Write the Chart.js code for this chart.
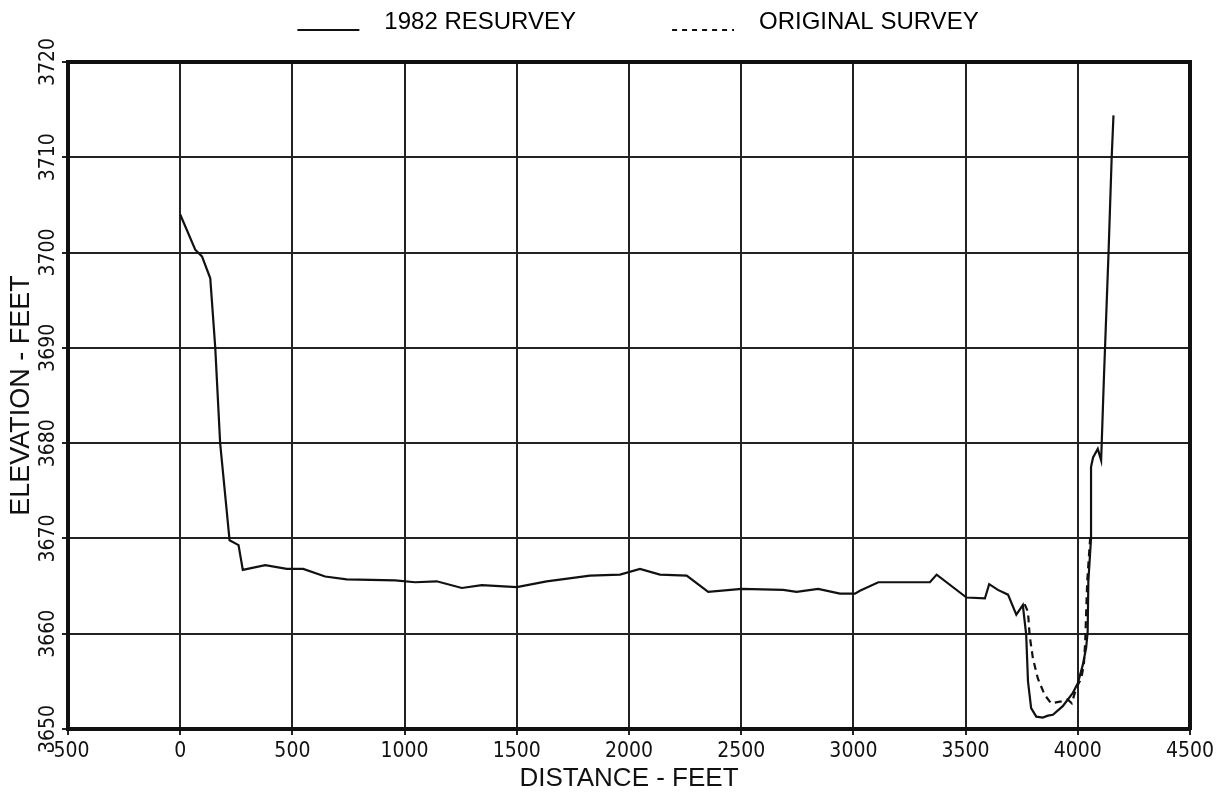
<!DOCTYPE html>
<html>
<head>
<meta charset="utf-8">
<script src="https://cdn.jsdelivr.net/npm/chart.js@4.4.1/dist/chart.umd.min.js"></script>
<style>
  html, body { margin: 0; padding: 0; background: #fff; }
  #wrap { width: 1225px; height: 797px; }
</style>
</head>
<body>
<div id="wrap"><canvas id="profile" width="1225" height="797"></canvas></div>
<script>
// cross section: distance (ft) and elevation (ft)
const resurveyDist = [0, 67, 97, 134, 156, 178, 220, 260, 279, 379,
  475, 548, 646, 742, 958, 1047, 1143, 1255, 1344, 1500,
  1633, 1826, 1960, 2049, 2138, 2257, 2353, 2502, 2687, 2747,
  2843, 2940, 3007, 3029, 3111, 3341, 3371, 3504, 3586, 3605,
  3644, 3689, 3726, 3755, 3770, 3778, 3792, 3815, 3844, 3867,
  3889, 3933, 3978, 4000, 4022, 4037, 4044, 4047, 4059, 4059,
  4068, 4089, 4104, 4116, 4137, 4151, 4159];
const resurveyElev = [3704.0, 3700.3, 3699.6, 3697.3, 3690.1, 3680.0, 3669.8, 3669.3, 3666.7, 3667.2,
  3666.8, 3666.8, 3666.0, 3665.7, 3665.6, 3665.4, 3665.5, 3664.8, 3665.1, 3664.9,
  3665.5, 3666.1, 3666.2, 3666.8, 3666.2, 3666.1, 3664.4, 3664.7, 3664.6, 3664.4,
  3664.7, 3664.2, 3664.2, 3664.5, 3665.4, 3665.4, 3666.2, 3663.8, 3663.7, 3665.2,
  3664.6, 3664.1, 3662.0, 3663.0, 3659.9, 3655.0, 3652.2, 3651.3, 3651.2, 3651.4,
  3651.5, 3652.4, 3653.8, 3654.8, 3656.7, 3658.5, 3660.2, 3665.5, 3670.0, 3677.5,
  3678.5, 3679.4, 3678.2, 3686.6, 3700.0, 3710.0, 3714.4];

const originalDist = [3763, 3778, 3785, 3800, 3822, 3852, 3881, 3926, 3955, 3973,
  3993, 4015, 4027, 4033, 4037, 4042, 4055];
const originalElev = [3663.1, 3662.3, 3659.9, 3657.4, 3655.3, 3653.6, 3652.7, 3652.9, 3653.1, 3652.7,
  3654.3, 3655.3, 3656.7, 3659.2, 3662.0, 3665.5, 3670.0];

const seriesNames = ['1982 RESURVEY', 'ORIGINAL SURVEY'];
const distTicks = [-500, 0, 500, 1000, 1500, 2000, 2500, 3000, 3500, 4000, 4500];
const elevTicks = [3650, 3660, 3670, 3680, 3690, 3700, 3710, 3720];

const ink = '#111';
const textFont = "'Liberation Sans', Arial, sans-serif";
const tickFont = "'Liberation Sans Narrow', 'DejaVu Sans Condensed', sans-serif";

function toPoints(xs, ys) {
  return xs.map((x, i) => ({ x: x, y: ys[i] }));
}

// legend sample: a short line sitting on the text baseline
function legendSample(dash) {
  const c = document.createElement('canvas');
  c.width = 161;
  c.height = 24;
  const g = c.getContext('2d');
  g.strokeStyle = ink;
  g.lineWidth = 2;
  g.setLineDash(dash);
  g.beginPath();
  g.moveTo(86, 20);
  g.lineTo(148, 20);
  g.stroke();
  return c;
}
const samples = [legendSample([]), legendSample([5, 5])];

const fixTicks = (values) => (scale) => {
  scale.ticks = values.map(v => ({ value: v }));
};

new Chart(document.getElementById('profile'), {
  type: 'line',
  data: {
    datasets: [
      {
        label: seriesNames[0],
        data: toPoints(resurveyDist, resurveyElev),
        borderColor: ink,
        borderWidth: 2.2,
        pointRadius: 0,
        tension: 0
      },
      {
        label: seriesNames[1],
        data: toPoints(originalDist, originalElev),
        borderColor: ink,
        borderWidth: 2.2,
        borderDash: [7, 5],
        pointRadius: 0,
        tension: 0
      }
    ]
  },
  options: {
    responsive: false,
    animation: false,
    devicePixelRatio: 1,
    layout: { padding: { top: 0, right: 35, bottom: 0, left: 0 } },
    plugins: {
      tooltip: { enabled: false },
      legend: {
        position: 'top',
        labels: {
          usePointStyle: true,
          pointStyleWidth: 161,
          boxHeight: 24,
          padding: 10,
          color: ink,
          font: { family: textFont, size: 24 },
          generateLabels: (chart) => chart.data.datasets.map((ds, i) => ({
            text: ds.label,
            pointStyle: samples[i],
            datasetIndex: i,
            fillStyle: 'transparent',
            strokeStyle: 'transparent',
            lineWidth: 0,
            hidden: false
          }))
        }
      }
    },
    scales: {
      x: {
        type: 'linear',
        min: -500,
        max: 4500,
        afterBuildTicks: fixTicks(distTicks),
        afterFit: (s) => { s.height = 68; },
        grid: { color: '#222', lineWidth: 2, tickLength: 6 },
        border: { color: ink, width: 4 },
        ticks: {
          color: ink,
          autoSkip: false,
          maxRotation: 0,
          padding: 4,
          font: { family: tickFont, size: 21 },
          callback: (v) => String(v)
        },
        title: {
          display: true,
          text: 'DISTANCE - FEET',
          color: ink,
          font: { family: textFont, size: 26 },
          padding: { top: 0, bottom: 3 }
        }
      },
      y: {
        type: 'linear',
        min: 3650,
        max: 3720,
        afterBuildTicks: fixTicks(elevTicks),
        afterFit: (s) => { s.width = 68; },
        grid: { color: '#222', lineWidth: 2, tickLength: 6 },
        border: { color: ink, width: 4 },
        ticks: {
          color: ink,
          autoSkip: false,
          minRotation: 90,
          maxRotation: 90,
          crossAlign: 'center',
          padding: -11,
          font: { family: tickFont, size: 21 },
          callback: (v) => String(v)
        },
        title: {
          display: true,
          text: 'ELEVATION - FEET',
          color: ink,
          font: { family: textFont, size: 27 },
          padding: { top: 5, bottom: 0 }
        }
      },
      // top and right frame edges
      x2: {
        type: 'linear',
        position: 'top',
        min: -500,
        max: 4500,
        afterFit: (s) => { s.height = 18; },
        grid: { drawOnChartArea: false, drawTicks: false },
        ticks: { display: false },
        border: { color: ink, width: 4 }
      },
      y2: {
        type: 'linear',
        position: 'right',
        min: 3650,
        max: 3720,
        afterFit: (s) => { s.width = 0; },
        grid: { drawOnChartArea: false, drawTicks: false },
        ticks: { display: false },
        border: { color: ink, width: 4 }
      }
    }
  }
});
</script>
</body>
</html>
